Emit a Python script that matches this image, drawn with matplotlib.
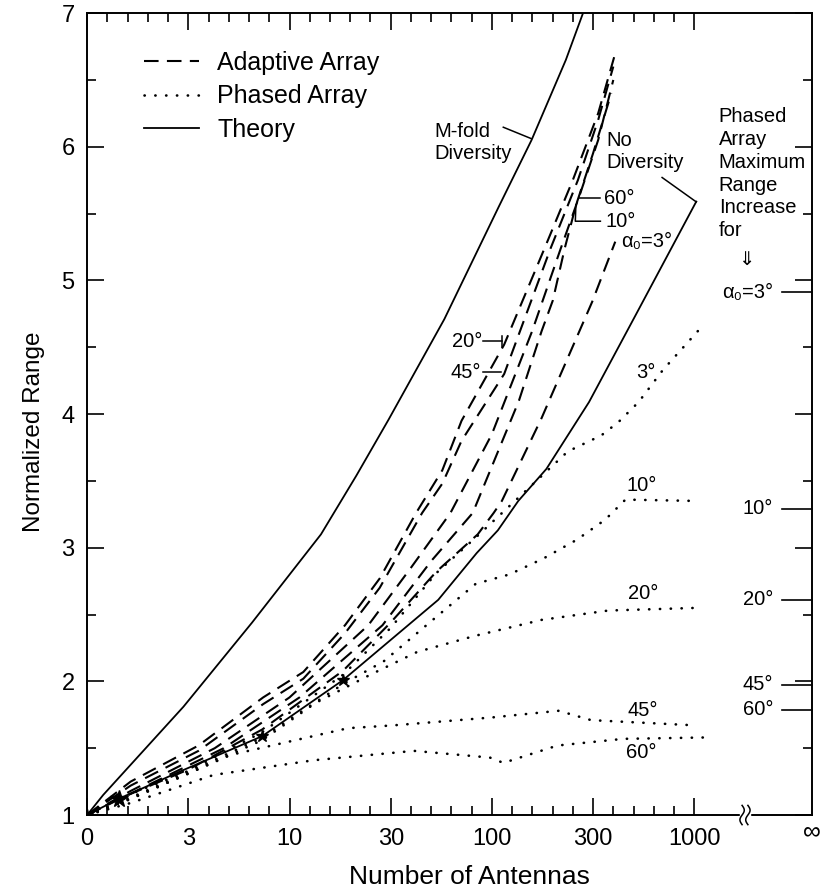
import numpy as np
import matplotlib
matplotlib.use("Agg")
import matplotlib.pyplot as plt
from matplotlib.lines import Line2D
from matplotlib.patches import Rectangle
from matplotlib.ticker import MultipleLocator, NullFormatter

plt.rcParams['font.family'] = ['Liberation Sans', 'DejaVu Sans']

# --- data (N = number of antennas, R = normalized range)
mfold_n = [1, 1.2, 2.99, 6.53, 14.3, 21.4, 30.9, 58.2, 108, 157, 232, 282]
mfold_r = [1.0, 1.15, 1.81, 2.44, 3.10, 3.54, 3.96, 4.71, 5.55, 6.05, 6.65, 7.0]

nodiv_n = [1, 1.43, 2.92, 7.33, 18.4, 54.3, 84.1, 107, 135, 186, 302, 513, 1023]
nodiv_r = [1.0, 1.12, 1.33, 1.59, 2.01, 2.61, 2.96, 3.13, 3.35, 3.59, 4.09, 4.74, 5.59]

# adaptive array, one curve per angular spread
aa20_n = [1, 1.64, 3.55, 7.41, 11.7, 18.8, 27.9, 42.2, 56.9, 70.8, 115, 182, 251, 335, 407]
aa20_r = [1.0, 1.25, 1.52, 1.88, 2.07, 2.42, 2.77, 3.26, 3.58, 3.95, 4.52, 5.24, 5.75, 6.25, 6.7]
aa45_n = [1, 1.64, 3.55, 7.41, 11.7, 18.8, 27.9, 45.2, 56.9, 70.8, 115, 195, 266, 335, 398]
aa45_r = [1.0, 1.22, 1.48, 1.83, 2.02, 2.36, 2.70, 3.26, 3.48, 3.80, 4.30, 5.24, 5.75, 6.2, 6.6]
aa60_n = [1, 1.64, 4.27, 10, 24.5, 39.8, 62.4, 100, 158, 219, 269, 335, 398]
aa60_r = [1.0, 1.18, 1.5, 1.88, 2.42, 2.85, 3.26, 3.85, 4.62, 5.24, 5.62, 6.05, 6.5]
aa10_n = [1, 1.64, 4.73, 11.2, 28.8, 50.1, 80.4, 112, 136, 176, 200, 229, 260, 316, 389]
aa10_r = [1.0, 1.16, 1.5, 1.88, 2.42, 2.9, 3.26, 3.79, 4.10, 4.62, 4.85, 5.24, 5.56, 5.95, 6.4]
aa3_n = [1, 1.43, 3.16, 7.33, 18.4, 31.6, 53.1, 85.1, 102, 112, 176, 313, 407]
aa3_r = [1.0, 1.12, 1.34, 1.64, 2.08, 2.44, 2.82, 3.1, 3.26, 3.35, 3.97, 4.84, 5.29]

# phased array
pa3_n = [1, 1.43, 3.16, 7.33, 18.4, 31.6, 53.1, 85.1, 141, 237, 347, 422, 531, 700, 1084]
pa3_r = [1.0, 1.12, 1.33, 1.62, 2.05, 2.4, 2.81, 3.09, 3.40, 3.72, 3.84, 3.94, 4.09, 4.33, 4.65]
pa10_n = [1, 1.64, 3.16, 7.33, 18.4, 29.2, 50.1, 83.2, 122, 180, 263, 363, 457, 1012]
pa10_r = [1.0, 1.13, 1.32, 1.58, 1.98, 2.15, 2.45, 2.73, 2.80, 2.92, 3.06, 3.21, 3.36, 3.35]
pa20_n = [1, 1.64, 3.16, 7.33, 13.5, 25.1, 42.7, 82.2, 176, 376, 1035]
pa20_r = [1.0, 1.12, 1.31, 1.56, 1.84, 2.05, 2.22, 2.34, 2.46, 2.53, 2.55]
pa45_n = [1, 1.64, 5.13, 19.5, 32.0, 100, 214, 309, 1035]
pa45_r = [1.0, 1.12, 1.45, 1.65, 1.67, 1.73, 1.78, 1.71, 1.67]
pa60_n = [1, 1.64, 4.22, 13.2, 41.2, 97.7, 114, 211, 447, 1109]
pa60_r = [1.0, 1.09, 1.30, 1.41, 1.48, 1.43, 1.39, 1.52, 1.57, 1.58]

star_n = [1, 1.43, 7.33, 18.4]
star_r = [1.0, 1.12, 1.59, 2.01]
star_size = [9, 13, 9, 9]

# phased array maximum range increase (markers on right edge)
pmax_labels = ['α₀=3°', '10°', '20°', '45°', '60°']
pmax_r = [4.91, 3.29, 2.61, 1.975, 1.786]

xtick_labels = ['0', '3', '10', '30', '100', '300', '1000']

# --- figure
fig = plt.figure(figsize=(8.34, 8.92), dpi=100)
ax = fig.add_axes([0.1045, 0.0863, 0.8687, 0.899])
ax.set_xscale('log')

dash = dict(color='k', lw=1.5, linestyle=(0, (7, 4)))
dot = dict(color='k', lw=1.9, linestyle=(0, (0.1, 4.0)), dash_capstyle='round')
solid = dict(color='k', lw=1.3)

ax.plot(mfold_n, mfold_r, **solid)
ax.plot(nodiv_n, nodiv_r, **solid)
for n, r in [(aa20_n, aa20_r), (aa45_n, aa45_r), (aa60_n, aa60_r),
             (aa10_n, aa10_r), (aa3_n, aa3_r)]:
    ax.plot(n, r, **dash)
for n, r in [(pa3_n, pa3_r), (pa10_n, pa10_r), (pa20_n, pa20_r),
             (pa45_n, pa45_r), (pa60_n, pa60_r)]:
    ax.plot(n, r, **dot)
for n, r, s in zip(star_n, star_r, star_size):
    ax.plot(n, r, marker='*', color='k', ms=s, ls='none')

# ticks: labels sit every half decade, 4 minor ticks in between
ax.set_xticks(10 ** (np.arange(7) / 2))
ax.set_xticklabels(xtick_labels)
ax.set_xticks([10 ** (k / 10) for k in range(1, 30) if k % 5], minor=True)
ax.xaxis.set_minor_formatter(NullFormatter())
ax.yaxis.set_major_locator(MultipleLocator(1))
ax.yaxis.set_minor_locator(MultipleLocator(0.5))
ax.set_xlim(1, 10 ** 3.58)
ax.set_ylim(1, 7)
ax.tick_params(which='both', direction='in', top=True, right=True, width=1.2)
ax.tick_params(which='major', length=12, labelsize=17, pad=9)
ax.tick_params(which='minor', length=6.5)
for s in ax.spines.values():
    s.set_linewidth(1.4)

ax.text(1.0, -0.021, '∞', transform=ax.transAxes, ha='center', va='center', fontsize=18)

# axis break between 1000 and infinity
ax.add_patch(Rectangle((0.901, -0.01), 0.014, 0.02, transform=ax.transAxes,
                       color='white', clip_on=False, zorder=5))
t = np.linspace(-1, 1, 30)
for x0 in (0.904, 0.912):
    ax.plot(x0 + 0.003 * np.sin(np.pi * t), 0.012 * t, transform=ax.transAxes,
            color='k', lw=1.1, clip_on=False, zorder=6)

ax.set_xlabel('Number of Antennas', fontsize=19)
ax.xaxis.set_label_coords(0.528, -0.062)
ax.set_ylabel('Normalized Range', fontsize=17.5)
ax.yaxis.set_label_coords(-0.058, 0.478)

handles = [Line2D([], [], **dash), Line2D([], [], **dot), Line2D([], [], **solid)]
ax.legend(handles, ['Adaptive Array', 'Phased Array', 'Theory'], loc='upper left',
          bbox_to_anchor=(0.079, 0.953), frameon=False, fontsize=18, handlelength=2.2,
          handletextpad=0.72, labelspacing=0.38, borderpad=0, borderaxespad=0)

# annotations
tA = ax.transAxes
fs = 14.5
lk = dict(color='k', lw=1.1, transform=tA)
ax.text(0.479, 0.864, 'M-fold\nDiversity', transform=tA, ha='left', va='top', fontsize=fs, linespacing=1.2)
ax.plot([0.5744, 0.6127], [0.8577, 0.8436], **lk)
ax.text(0.717, 0.853, 'No\nDiversity', transform=tA, ha='left', va='top', fontsize=fs, linespacing=1.2)
ax.plot([0.7936, 0.8407], [0.795, 0.7646], **lk)
ax.text(0.7137, 0.769, '60°', transform=tA, ha='left', va='center', fontsize=fs)
ax.plot([0.679, 0.708], [0.769, 0.769], **lk)
ax.text(0.7153, 0.7405, '10°', transform=tA, ha='left', va='center', fontsize=fs)
ax.plot([0.6746, 0.6738, 0.7084], [0.7614, 0.7405, 0.7405], **lk)
ax.text(0.7365, 0.7153, 'α₀=3°', transform=tA, ha='left', va='center', fontsize=fs)
ax.text(0.545, 0.5908, '20°', transform=tA, ha='right', va='center', fontsize=fs)
ax.plot([0.547, 0.5727], [0.5908, 0.5908], **lk)
ax.plot([0.5727, 0.5727], [0.584, 0.597], **lk)
ax.text(0.5437, 0.5522, '45°', transform=tA, ha='right', va='center', fontsize=fs)
ax.plot([0.546, 0.5713], [0.5522, 0.5522], **lk)

for x, y, s in [(0.7716, 0.552, '3°'), (0.766, 0.4104, '10°'), (0.7677, 0.2762, '20°'),
                (0.7674, 0.1307, '45°'), (0.7654, 0.0781, '60°')]:
    ax.text(x, y, s, transform=tA, ha='center', va='center', fontsize=fs)

ax.text(0.8718, 0.8824, 'Phased\nArray\nMaximum\nRange\nIncrease\nfor', transform=tA,
        ha='left', va='top', fontsize=fs, linespacing=1.25)
ax.text(0.9097, 0.6912, '⇓', transform=tA, ha='center', va='center', fontsize=14)

ty = ax.get_yaxis_transform()
for lbl, r in zip(pmax_labels, pmax_r):
    ax.text(0.947, r, lbl, transform=ty, ha='right', va='center', fontsize=fs)
    ax.plot([0.959, 1.0], [r, r], color='k', lw=1.2, transform=ty, clip_on=False)

fig.savefig('out.png', dpi=100)
